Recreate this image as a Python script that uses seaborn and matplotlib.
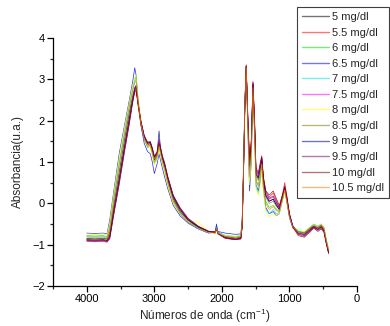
import pandas as pd
import seaborn as sns
import matplotlib
matplotlib.use("Agg")
import matplotlib.pyplot as plt
from matplotlib.ticker import MultipleLocator

# wavenumbers (cm-1) shared by all spectra
wn = [4000, 3880, 3760, 3700, 3660, 3600, 3520, 3440, 3370, 3320,
      3290, 3270, 3240, 3200, 3150, 3100, 3060, 3030, 3000, 2960,
      2930, 2910, 2880, 2850, 2800, 2720, 2620, 2500, 2350, 2200,
      2100, 2080, 2060, 1950, 1800, 1720, 1700, 1680, 1660, 1640,
      1615, 1590, 1565, 1540, 1515, 1495, 1460, 1430, 1410, 1385,
      1350, 1300, 1240, 1190, 1150, 1100, 1070, 1040, 1000, 950,
      870, 780, 700, 640, 580, 530, 490, 460, 435, 420]

abs_5 = [-0.85, -0.86, -0.85, -0.86, -0.70, -0.05, 0.75, 1.55, 2.20, 2.60,
         2.80, 2.85, 2.40, 1.95, 1.60, 1.42, 1.45, 1.25, 1.05, 1.15,
         1.45, 1.30, 1.05, 0.90, 0.55, 0.10, -0.20, -0.42, -0.58, -0.68,
         -0.68, -0.58, -0.70, -0.80, -0.84, -0.82, -0.50, 0.80, 2.40, 3.32,
         1.90, 0.75, 1.30, 2.85, 1.80, 0.70, 0.60, 0.85, 1.05, 0.55,
         0.20, 0.05, 0.10, -0.05, -0.15, 0.15, 0.35, 0.10, -0.30, -0.55,
         -0.68, -0.72, -0.62, -0.55, -0.60, -0.55, -0.62, -0.85, -1.05, -1.15]
abs_5_5 = [-0.88, -0.89, -0.88, -0.90, -0.78, -0.15, 0.60, 1.40, 2.05, 2.50,
           2.72, 2.75, 2.35, 1.90, 1.55, 1.40, 1.42, 1.30, 1.10, 1.20,
           1.40, 1.30, 1.08, 0.95, 0.60, 0.15, -0.15, -0.40, -0.57, -0.68,
           -0.70, -0.60, -0.72, -0.82, -0.86, -0.84, -0.55, 0.70, 2.30, 3.30,
           1.95, 0.85, 1.40, 2.90, 1.90, 0.80, 0.70, 0.95, 1.10, 0.60,
           0.30, 0.15, 0.25, 0.05, -0.10, 0.25, 0.50, 0.20, -0.25, -0.55,
           -0.75, -0.80, -0.68, -0.58, -0.65, -0.60, -0.68, -0.90, -1.10, -1.20]
abs_6 = [-0.78, -0.79, -0.78, -0.80, -0.55, 0.15, 1.00, 1.75, 2.40, 2.80,
         3.00, 3.05, 2.50, 2.00, 1.55, 1.35, 1.38, 1.20, 0.95, 1.10,
         1.35, 1.20, 0.98, 0.80, 0.45, 0.02, -0.25, -0.45, -0.60, -0.70,
         -0.70, -0.56, -0.70, -0.78, -0.80, -0.78, -0.45, 0.85, 2.45, 3.30,
         1.85, 0.60, 1.20, 2.80, 1.70, 0.55, 0.45, 0.75, 0.95, 0.45,
         0.05, -0.10, -0.05, -0.15, -0.20, 0.10, 0.30, 0.05, -0.32, -0.57,
         -0.68, -0.70, -0.60, -0.52, -0.57, -0.52, -0.60, -0.85, -1.02, -1.12]
abs_6_5 = [-0.72, -0.73, -0.72, -0.74, -0.40, 0.30, 1.20, 1.90, 2.50, 2.95,
           3.28, 3.10, 2.50, 1.90, 1.45, 1.25, 1.20, 1.00, 0.72, 0.95,
           1.20, 1.05, 0.85, 0.65, 0.35, -0.05, -0.30, -0.48, -0.62, -0.72,
           -0.70, -0.50, -0.68, -0.72, -0.75, -0.74, -0.40, 0.90, 2.50, 3.30,
           1.70, 0.30, 1.00, 2.70, 1.60, 0.45, 0.30, 0.55, 0.85, 0.35,
           -0.10, -0.25, -0.20, -0.30, -0.25, 0.10, 0.30, 0.05, -0.35, -0.60,
           -0.70, -0.72, -0.60, -0.55, -0.58, -0.52, -0.60, -0.85, -1.05, -1.12]
abs_7 = [-0.80, -0.81, -0.80, -0.82, -0.58, 0.10, 0.95, 1.70, 2.35, 2.75,
         2.95, 3.00, 2.45, 1.95, 1.55, 1.38, 1.40, 1.22, 1.00, 1.10,
         1.40, 1.25, 1.00, 0.82, 0.48, 0.05, -0.22, -0.45, -0.60, -0.70,
         -0.70, -0.58, -0.70, -0.78, -0.82, -0.80, -0.48, 0.80, 2.40, 3.30,
         1.80, 0.55, 1.10, 2.75, 1.65, 0.40, 0.25, 0.55, 0.90, 0.30,
         -0.15, -0.25, -0.15, -0.25, -0.22, 0.12, 0.32, 0.08, -0.30, -0.55,
         -0.68, -0.70, -0.58, -0.50, -0.55, -0.50, -0.58, -0.85, -1.00, -1.10]
abs_7_5 = [-0.90, -0.91, -0.90, -0.92, -0.82, -0.20, 0.55, 1.35, 2.00, 2.50,
           2.78, 2.85, 2.45, 2.00, 1.62, 1.45, 1.48, 1.32, 1.12, 1.22,
           1.50, 1.35, 1.12, 0.98, 0.62, 0.18, -0.12, -0.38, -0.56, -0.68,
           -0.70, -0.60, -0.72, -0.82, -0.86, -0.85, -0.55, 0.75, 2.35, 3.32,
           2.00, 0.95, 1.45, 2.90, 1.90, 0.75, 0.65, 0.90, 1.10, 0.55,
           0.20, 0.10, 0.15, 0.00, -0.12, 0.18, 0.38, 0.12, -0.28, -0.55,
           -0.70, -0.75, -0.65, -0.56, -0.62, -0.56, -0.64, -0.88, -1.08, -1.18]
abs_8 = [-0.74, -0.75, -0.74, -0.76, -0.48, 0.25, 1.10, 1.85, 2.45, 2.85,
         3.05, 3.10, 2.55, 2.05, 1.60, 1.40, 1.35, 1.15, 0.95, 1.05,
         1.30, 1.15, 0.95, 0.78, 0.42, 0.00, -0.25, -0.45, -0.45, -0.68,
         -0.72, -0.60, -0.72, -0.78, -0.80, -0.78, -0.50, 0.85, 2.45, 3.28,
         1.75, 0.45, 1.05, 2.70, 1.55, 0.35, 0.20, 0.45, 0.80, 0.25,
         -0.20, -0.32, -0.25, -0.30, -0.25, 0.08, 0.28, 0.05, -0.32, -0.55,
         -0.65, -0.68, -0.58, -0.52, -0.56, -0.50, -0.58, -0.85, -1.02, -1.10]
abs_8_5 = [-0.86, -0.87, -0.86, -0.88, -0.75, -0.10, 0.65, 1.45, 2.10, 2.55,
           2.75, 2.80, 2.40, 1.95, 1.60, 1.45, 1.46, 1.28, 1.08, 1.18,
           1.45, 1.32, 1.08, 0.92, 0.58, 0.12, -0.18, -0.40, -0.57, -0.68,
           -0.68, -0.60, -0.72, -0.82, -0.85, -0.83, -0.52, 0.78, 2.38, 3.30,
           1.95, 0.85, 1.35, 2.85, 1.80, 0.65, 0.55, 0.80, 1.00, 0.50,
           0.15, 0.00, 0.05, -0.08, -0.15, 0.15, 0.35, 0.10, -0.30, -0.56,
           -0.70, -0.74, -0.63, -0.55, -0.60, -0.55, -0.63, -0.88, -1.06, -1.16]
abs_9 = [-0.88, -0.89, -0.88, -0.90, -0.80, -0.18, 0.58, 1.38, 2.05, 2.52,
         2.76, 2.82, 2.42, 1.98, 1.62, 1.46, 1.48, 1.32, 1.12, 1.20,
         1.75, 1.35, 1.10, 0.95, 0.60, 0.15, -0.15, -0.40, -0.57, -0.68,
         -0.70, -0.60, -0.72, -0.83, -0.87, -0.85, -0.55, 0.75, 2.35, 3.32,
         2.00, 0.90, 1.40, 2.88, 1.85, 0.72, 0.62, 0.88, 1.08, 0.55,
         0.18, 0.05, 0.10, -0.05, -0.15, 0.18, 0.38, 0.12, -0.28, -0.55,
         -0.72, -0.76, -0.65, -0.57, -0.63, -0.57, -0.65, -0.90, -1.08, -1.18]
abs_9_5 = [-0.92, -0.93, -0.92, -0.94, -0.86, -0.28, 0.45, 1.25, 1.92, 2.45,
           2.72, 2.78, 2.42, 2.00, 1.65, 1.48, 1.50, 1.35, 1.15, 1.25,
           1.55, 1.38, 1.15, 1.00, 0.65, 0.20, -0.10, -0.36, -0.55, -0.67,
           -0.70, -0.62, -0.73, -0.84, -0.88, -0.86, -0.58, 0.70, 2.30, 3.32,
           2.05, 1.00, 1.50, 2.92, 1.95, 0.80, 0.70, 0.95, 1.12, 0.60,
           0.25, 0.12, 0.18, 0.02, -0.10, 0.20, 0.40, 0.15, -0.25, -0.55,
           -0.74, -0.78, -0.66, -0.58, -0.64, -0.58, -0.66, -0.92, -1.10, -1.20]
abs_10 = [-0.90, -0.91, -0.90, -0.92, -0.84, -0.25, 0.50, 1.30, 1.95, 2.45,
          2.68, 2.72, 2.40, 2.00, 1.62, 1.45, 1.48, 1.30, 1.12, 1.22,
          1.45, 1.32, 1.10, 0.97, 0.62, 0.18, -0.12, -0.38, -0.56, -0.68,
          -0.72, -0.62, -0.74, -0.85, -0.88, -0.86, -0.58, 0.70, 2.30, 3.35,
          2.10, 1.05, 1.55, 2.95, 2.00, 0.85, 0.75, 1.00, 1.15, 0.65,
          0.30, 0.20, 0.30, 0.10, -0.05, 0.22, 0.42, 0.18, -0.25, -0.58,
          -0.78, -0.82, -0.70, -0.60, -0.68, -0.62, -0.70, -0.95, -1.12, -1.22]
abs_10_5 = [-0.82, -0.83, -0.82, -0.84, -0.62, 0.05, 0.90, 1.65, 2.30, 2.72,
            2.92, 2.95, 2.45, 1.95, 1.55, 1.38, 1.40, 1.22, 1.00, 1.12,
            1.38, 1.22, 1.00, 0.85, 0.50, 0.05, -0.25, -0.46, -0.61, -0.71,
            -0.72, -0.60, -0.72, -0.80, -0.82, -0.80, -0.50, 0.80, 2.40, 3.30,
            1.85, 0.65, 1.20, 2.80, 1.70, 0.55, 0.40, 0.70, 0.95, 0.40,
            0.00, -0.15, -0.08, -0.18, -0.20, 0.12, 0.32, 0.06, -0.32, -0.58,
            -0.70, -0.72, -0.60, -0.52, -0.58, -0.52, -0.60, -0.87, -1.05, -1.14]

labels = ["5 mg/dl", "5.5 mg/dl", "6 mg/dl", "6.5 mg/dl", "7 mg/dl", "7.5 mg/dl",
          "8 mg/dl", "8.5 mg/dl", "9 mg/dl", "9.5 mg/dl", "10 mg/dl", "10.5 mg/dl"]
series = [abs_5, abs_5_5, abs_6, abs_6_5, abs_7, abs_7_5,
          abs_8, abs_8_5, abs_9, abs_9_5, abs_10, abs_10_5]
colores = ["#000000", "#ff0000", "#00e000", "#0000ff", "#00e0e0", "#ff00ff",
           "#ffff00", "#808000", "#000080", "#800080", "#800000", "#ff8000"]

filas = []
for lab, vals in zip(labels, series):
    for w, a in zip(wn, vals):
        filas.append({"wn": w, "abs": a, "conc": lab})
df = pd.DataFrame(filas)

sns.set_style("ticks")
plt.rcParams["font.family"] = ["Liberation Sans", "DejaVu Sans"]
plt.rcParams["mathtext.default"] = "regular"

fig = plt.figure(figsize=(3.9, 3.26), dpi=100)
ax = fig.add_axes([53/390, 40/326, 304/390, 248/326])

sns.lineplot(data=df, x="wn", y="abs", hue="conc", hue_order=labels,
             palette=colores, linewidth=0.5, alpha=0.85, sort=False,
             estimator=None, ax=ax)

ax.set_xlim(4500, 0)
ax.set_ylim(-2, 4)
ax.xaxis.set_major_locator(MultipleLocator(1000))
ax.xaxis.set_minor_locator(MultipleLocator(500))
ax.yaxis.set_major_locator(MultipleLocator(1))
ax.yaxis.set_minor_locator(MultipleLocator(0.5))
ax.tick_params(which="major", length=4, width=0.9, labelsize=8, colors="black", pad=2)
ax.tick_params(which="minor", length=2.5, width=0.9)
for s in ["top", "right"]:
    ax.spines[s].set_visible(False)
for s in ["left", "bottom"]:
    ax.spines[s].set_linewidth(0.9)
    ax.spines[s].set_color("black")

ax.set_xlabel("Números de onda (cm$^{-1}$)", fontsize=8.5, labelpad=2)
ax.set_ylabel("Absorbancia(u.a.)", fontsize=8.5, labelpad=6)

handles, labs = ax.get_legend_handles_labels()
leg = ax.legend(handles, labs, loc="upper left", bbox_to_anchor=(297/390, 1 - 7/326),
                bbox_transform=fig.transFigure, fontsize=8, frameon=True, fancybox=False,
                edgecolor="#404040", framealpha=1, borderpad=0.45, labelspacing=0.5,
                handlelength=2.4, handletextpad=0.3, borderaxespad=0)
leg.get_frame().set_linewidth(0.8)
for h in leg.get_lines():
    h.set_linewidth(1.0)
    h.set_alpha(0.55)

fig.savefig("out.png", dpi=100)
